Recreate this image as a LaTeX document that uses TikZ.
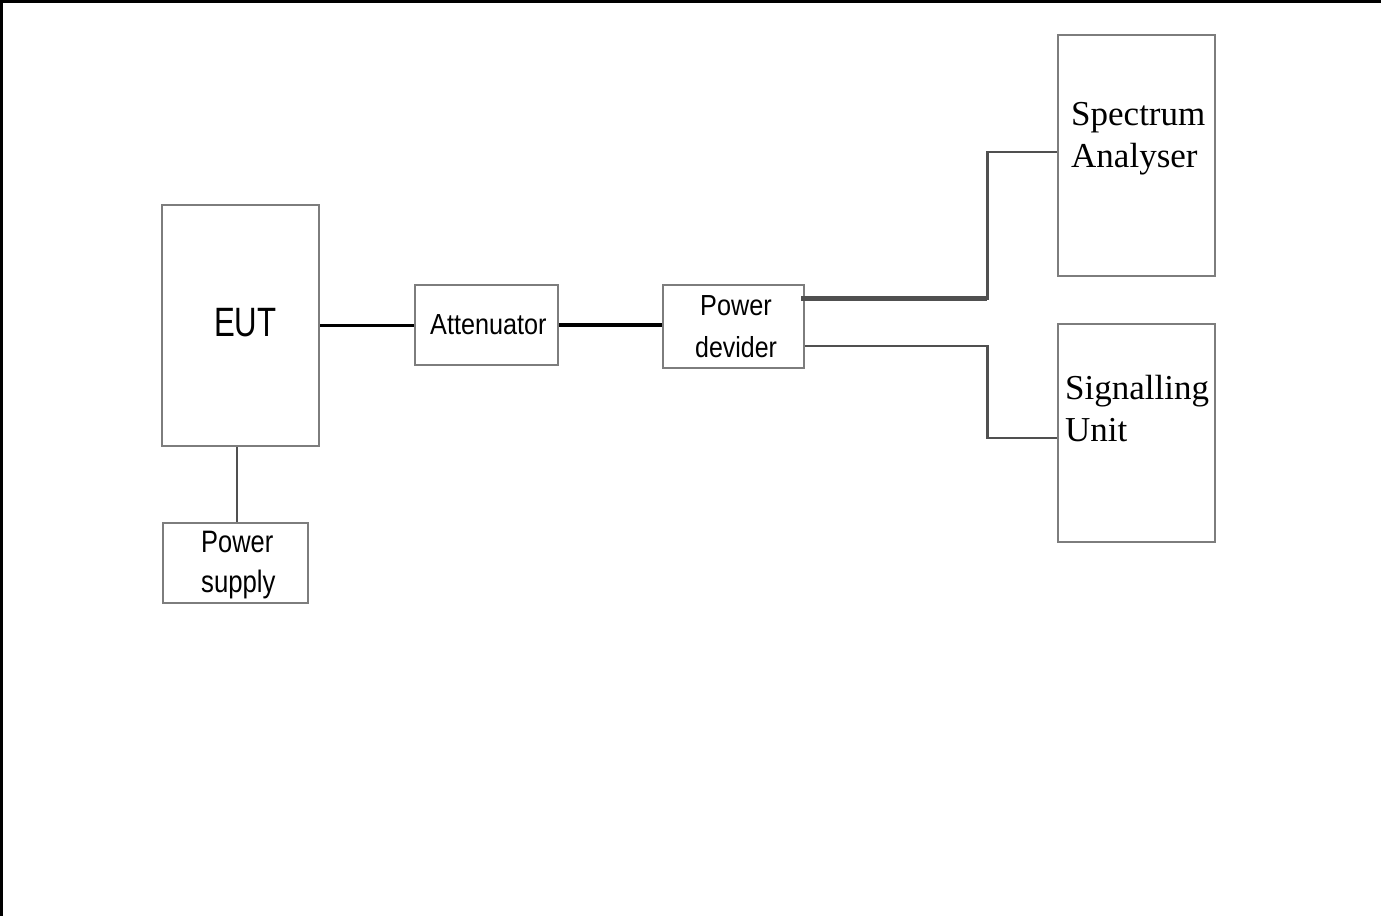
\documentclass[tikz,border=0pt]{standalone}
\usepackage{fontspec}
\usepackage{graphicx}
\setmainfont{Liberation Serif}
\newfontfamily\arialf{Liberation Sans}
\definecolor{boxgray}{RGB}{125,125,125}
\definecolor{wiregray}{RGB}{80,80,80}
\tikzset{
  box/.style={draw=boxgray, line width=2.8pt, fill=none, inner sep=0pt},
  lbl/.style={anchor=base west, inner sep=0pt, text=black},
  blackwire/.style={draw=black, line width=3.6pt},
  graywire/.style={draw=wiregray, line width=2.4pt},
  heavywire/.style={draw=wiregray, line width=4.4pt},
}
\newcommand{\sanstxt}[3]{{\arialf\fontsize{#1}{#1}\selectfont\scalebox{#2}[1]{#3}}}
\newcommand{\seriftxt}[1]{{\fontsize{35}{35}\selectfont #1}}
\begin{document}
\begin{tikzpicture}[x=1pt,y=-1pt]
\useasboundingbox (0,0) rectangle (1381,916);
\fill[white] (0,0) rectangle (1381,916);
% frame (top and left)
\draw[black, line width=2.6pt] (1381,1.2) -- (1.2,1.2) -- (1.2,916);

% boxes
\node[box, minimum width=157pt, minimum height=241pt] (eut) at (240.5,325.5) {};
\node[box, minimum width=143pt, minimum height=80pt]  (att) at (486.5,325) {};
\node[box, minimum width=141pt, minimum height=83pt]  (div) at (733.5,326.5) {};
\node[box, minimum width=145pt, minimum height=80pt]  (ps)  at (235.5,563) {};
\node[box, minimum width=157pt, minimum height=241pt] (sa)  at (1136.5,155.5) {};
\node[box, minimum width=157pt, minimum height=218pt] (su)  at (1136.5,433) {};

% labels
\node[lbl] (teut) at (214,336) {\sanstxt{41}{0.76}{EUT}};
\node[lbl] (tatt) at (430,334) {\sanstxt{29}{0.87}{Attenuator}};
\node[lbl] (tps1) at (201,552.5) {\sanstxt{31}{0.82}{Power}};
\node[lbl] (tps2) at (201,592.5) {\sanstxt{31}{0.83}{supply}};
\node[lbl] (tdv1) at (700,315) {\sanstxt{29}{0.87}{Power}};
\node[lbl] (tdv2) at (695,357.5) {\sanstxt{29}{0.86}{devider}};
\node[lbl] (tsa1) at (1071,125.5) {\seriftxt{Spectrum}};
\node[lbl] (tsa2) at (1071,167) {\seriftxt{Analyser}};
\node[lbl] (tsu1) at (1065,399) {\seriftxt{Signalling}};
\node[lbl] (tsu2) at (1065,441) {\seriftxt{Unit}};

% connectors
\draw[blackwire] (eut.east) -- (eut.east -| att.west);
\draw[blackwire] (att.east) -- (att.east -| div.west);
\draw[graywire] ([xshift=-3.5pt]eut.south) -- ([xshift=-3.5pt]eut.south |- ps.north);
\draw[heavywire] ([xshift=-4pt,yshift=-15pt]div.north east) -- ++(186,0) coordinate (c1);
\draw[graywire] ([yshift=-1pt]c1) |- ([yshift=3.5pt]sa.west);
\draw[graywire] ([yshift=-19.5pt]div.east) -- ++(182,0) |- ([yshift=-5pt]su.west);
\end{tikzpicture}
\end{document}
